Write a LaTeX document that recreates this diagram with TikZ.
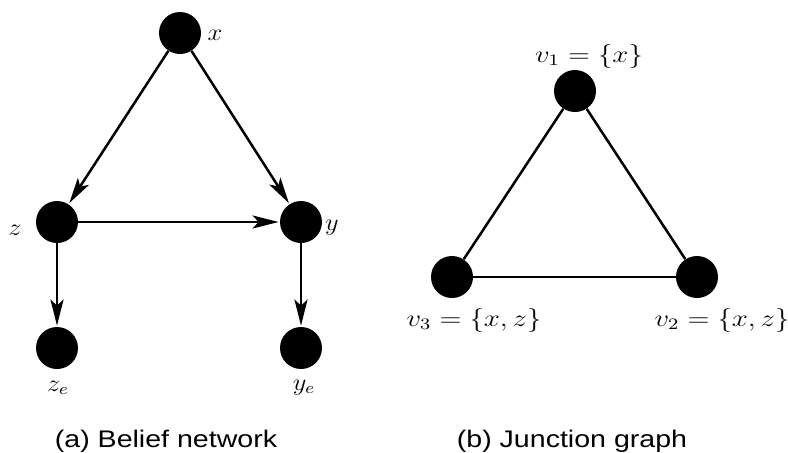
\documentclass[tikz,border=0pt]{standalone}
\usepackage{fontspec}
\setsansfont{Liberation Sans}
\usetikzlibrary{arrows.meta}
\begin{document}
\begin{tikzpicture}[x=0.5pt,y=-0.5pt,
  vtx/.style={circle,fill=black,minimum size=21pt,inner sep=0pt},
  edge/.style={line width=1.25pt},
  arr/.style={edge,-{Stealth[length=13pt,width=6.5pt,inset=3pt]},shorten >=0.5pt},
  vlab/.style={inner sep=0pt,font=\fontsize{11.5}{13}\selectfont},
  slab/.style={inner sep=0pt,font=\fontsize{11.5}{13}\selectfont},
  captext/.style={inner sep=0pt,anchor=base,font=\sffamily\fontsize{12}{14}\selectfont}]
\useasboundingbox (0,0) rectangle (788,452);
% (a) belief network
\node[vtx] (x) at (180,33) {};
\node[vtx] (z) at (57,222) {};
\node[vtx] (y) at (301,222) {};
\node[vtx] (ze) at (57,348) {};
\node[vtx] (ye) at (301,348) {};
\draw[arr] (x) -- (z);
\draw[arr] (x) -- (y);
\draw[arr] (z) -- (y);
\draw[arr] (z) -- (ze);
\draw[arr] (y) -- (ye);
\node[vlab] (lx) at (215,35) {\scalebox{1.1}[1]{$x$}};
\node[vlab] (lz) at (15,230) {\scalebox{1.1}[1]{$z$}};
\node[vlab,anchor=base] (ly) at (332,230) {\scalebox{1.1}[1]{$y$}};
\node[vlab,anchor=base] (lze) at (58,391) {\scalebox{1.1}[1]{$z_e$}};
\node[vlab,anchor=base] (lye) at (304,390) {\scalebox{1.1}[1]{$y_e$}};
% (b) junction graph
\node[vtx] (v1) at (575,91) {};
\node[vtx] (v3) at (452,277) {};
\node[vtx] (v2) at (697,277) {};
\draw[edge] (v1) -- (v3);
\draw[edge] (v1) -- (v2);
\draw[edge] (v3) -- (v2);
\node[slab,anchor=base] (lv1) at (589,62) {\scalebox{1.2}[1]{$v_1=\{x\}$}};
\node[slab,anchor=base] (lv3) at (474,326) {\scalebox{1.2}[1]{$v_3=\{x,z\}$}};
\node[slab,anchor=base] (lv2) at (722,326) {\scalebox{1.2}[1]{$v_2=\{x,z\}$}};
% captions
\node[captext] (ca) at (166,447) {\scalebox{1.19}[1]{(a) Belief network}};
\node[captext] (cb) at (572,447) {\scalebox{1.19}[1]{(b) Junction graph}};
\end{tikzpicture}
\end{document}
